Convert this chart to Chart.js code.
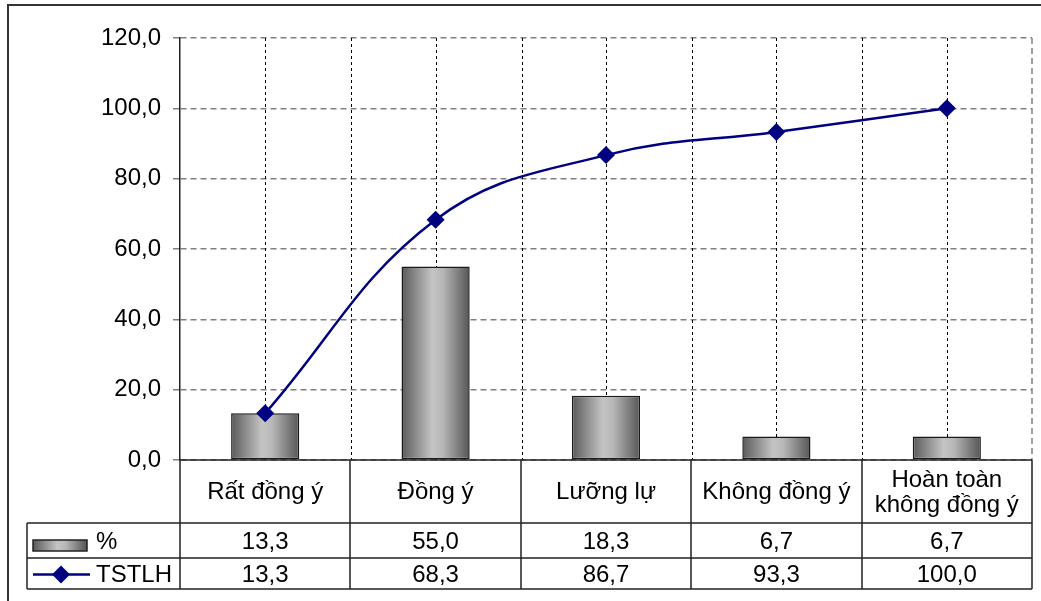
<!DOCTYPE html>
<html>
<head>
<meta charset="utf-8">
<script src="https://cdn.jsdelivr.net/npm/chart.js@4/dist/chart.umd.min.js"></script>
<style>
  html, body { margin: 0; padding: 0; background: #fff; }
  #chart { display: block; }
</style>
</head>
<body>
<canvas id="chart" width="1041" height="601"></canvas>
<script>
// Categories shown under the plot (multi-line where the table cell wraps)
const categories = [
    'Rất đồng ý',
    'Đồng ý',
    'Lưỡng lự',
    'Không đồng ý',
    ['Hoàn toàn', 'không đồng ý']
];
// Share of answers, percent
const percentValues = [13.3, 55.0, 18.3, 6.7, 6.7];
// Cumulative percent (TSTLH)
const cumulativeValues = [13.3, 68.3, 86.7, 93.3, 100.0];
const yTicks = [0, 20, 40, 60, 80, 100, 120];

const FONT = '"Liberation Sans", Arial, sans-serif';
const FONT_SIZE = 24;
const NAVY = '#000080';

// Format like 13,3
const fmt = v => v.toFixed(1).replace('.', ',');

function barGradient(ctx, x0, x1) {
    const g = ctx.createLinearGradient(x0, 0, x1, 0);
    g.addColorStop(0, '#5a5a5a');
    g.addColorStop(0.45, '#c4c4c4');
    g.addColorStop(0.6, '#b8b8b8');
    g.addColorStop(1, '#555555');
    return g;
}

function drawDiamond(ctx, x, y, r) {
    ctx.beginPath();
    ctx.moveTo(x, y - r);
    ctx.lineTo(x + r, y);
    ctx.lineTo(x, y + r);
    ctx.lineTo(x - r, y);
    ctx.closePath();
    ctx.fill();
}

// Vertical dashed guides, plot frame, outer frame and the data table
const tablePlugin = {
    id: 'dataTable',
    beforeDatasetsDraw(chart) {
        const { ctx, chartArea: a, scales: { x } } = chart;
        const step = x.width / categories.length;
        ctx.save();
        ctx.strokeStyle = '#000';
        ctx.lineWidth = 1;
        ctx.setLineDash([3, 3]);
        for (let i = 0; i < categories.length; i++) {
            const cx = Math.round(x.getPixelForValue(i)) + 0.5;
            [cx, Math.round(cx + step / 2) + 0.5].forEach(px => {
                if (px >= a.right - 2) return;
                ctx.beginPath();
                ctx.moveTo(px, a.top);
                ctx.lineTo(px, a.bottom);
                ctx.stroke();
            });
        }
        // right edge of the plot area
        ctx.strokeStyle = '#808080';
        ctx.lineWidth = 1.5;
        ctx.setLineDash([6, 4]);
        ctx.beginPath();
        ctx.moveTo(a.right, a.top);
        ctx.lineTo(a.right, a.bottom);
        ctx.stroke();
        ctx.restore();
    },
    afterDraw(chart) {
        const { ctx, chartArea: a, scales: { x } } = chart;
        const step = x.width / categories.length;
        const rowCat = [a.bottom, 523];
        const rowPct = [523, 558];
        const rowCum = [558, 589];
        const legendLeft = 27;

        ctx.save();
        // outer frame (top and left edges)
        ctx.strokeStyle = '#333';
        ctx.lineWidth = 2;
        ctx.beginPath();
        ctx.moveTo(1041, 5);
        ctx.lineTo(8, 5);
        ctx.lineTo(8, 601);
        ctx.stroke();

        // table grid
        ctx.strokeStyle = '#222';
        ctx.lineWidth = 1.5;
        ctx.beginPath();
        ctx.moveTo(a.left, a.bottom);
        ctx.lineTo(a.right, a.bottom);
        [rowPct[0], rowCum[0], rowCum[1]].forEach(y => {
            ctx.moveTo(legendLeft, y);
            ctx.lineTo(a.right, y);
        });
        ctx.moveTo(legendLeft, rowPct[0]);
        ctx.lineTo(legendLeft, rowCum[1]);
        for (let i = 0; i <= categories.length; i++) {
            const px = Math.round(a.left + i * step);
            ctx.moveTo(px, a.bottom);
            ctx.lineTo(px, rowCum[1]);
        }
        ctx.stroke();

        // cell text
        ctx.fillStyle = '#000';
        ctx.font = FONT_SIZE + 'px ' + FONT;
        ctx.textAlign = 'center';
        ctx.textBaseline = 'middle';
        categories.forEach((c, i) => {
            const cx = x.getPixelForValue(i);
            const lines = Array.isArray(c) ? c : [c];
            const mid = (rowCat[0] + rowCat[1]) / 2;
            const lh = 25;
            lines.forEach((t, k) => {
                ctx.fillText(t, cx, mid + (k - (lines.length - 1) / 2) * lh + 1);
            });
            ctx.fillText(fmt(percentValues[i]), cx, (rowPct[0] + rowPct[1]) / 2 + 2);
            ctx.fillText(fmt(cumulativeValues[i]), cx, (rowCum[0] + rowCum[1]) / 2 + 2);
        });

        // legend keys
        const swY = 540, swH = 11;
        ctx.fillStyle = barGradient(ctx, 33, 87);
        ctx.fillRect(33, swY, 54, swH);
        ctx.strokeStyle = '#222';
        ctx.lineWidth = 1.5;
        ctx.strokeRect(33, swY, 54, swH);

        const ly = (rowCum[0] + rowCum[1]) / 2 + 1;
        ctx.strokeStyle = NAVY;
        ctx.lineWidth = 2.5;
        ctx.beginPath();
        ctx.moveTo(33, ly);
        ctx.lineTo(90, ly);
        ctx.stroke();
        ctx.fillStyle = NAVY;
        drawDiamond(ctx, 61, ly, 9);

        ctx.fillStyle = '#000';
        ctx.textAlign = 'left';
        ctx.fillText('%', 96, (rowPct[0] + rowPct[1]) / 2 + 2);
        ctx.fillText('TSTLH', 96, ly + 1);
        ctx.restore();
    }
};

const chartCanvas = document.getElementById('chart');

new Chart(chartCanvas, {
    data: {
        labels: categories,
        datasets: [
            {
                type: 'line',
                label: 'TSTLH',
                data: cumulativeValues,
                borderColor: NAVY,
                backgroundColor: NAVY,
                borderWidth: 2.5,
                tension: 0.4,
                pointStyle: 'rectRot',
                pointRadius: 9,
                pointBorderWidth: 0,
                pointBackgroundColor: NAVY,
                order: 1
            },
            {
                type: 'bar',
                label: '%',
                data: percentValues,
                backgroundColor: (c) => {
                    const chart = c.chart;
                    const xs = chart.scales.x;
                    if (!chart.chartArea || !xs || c.dataIndex === undefined) return '#999';
                    const cx = xs.getPixelForValue(c.dataIndex);
                    const half = (xs.width / categories.length) * 0.4 / 2;
                    return barGradient(chart.ctx, cx - half, cx + half);
                },
                borderColor: '#1a1a1a',
                borderWidth: 1.5,
                borderSkipped: false,
                barPercentage: 0.4,
                categoryPercentage: 1,
                order: 2
            }
        ]
    },
    options: {
        responsive: false,
        animation: false,
        events: [],
        layout: { padding: { top: 38, right: 9, bottom: 141, left: 0 } },
        plugins: {
            legend: { display: false },
            tooltip: { enabled: false }
        },
        scales: {
            x: {
                type: 'category',
                display: false,
                offset: true
            },
            y: {
                min: 0,
                max: 120,
                afterFit: s => { s.width = 180; },
                afterBuildTicks: s => { s.ticks = yTicks.map(v => ({ value: v })); },
                ticks: {
                    color: '#000',
                    padding: 12,
                    font: { family: FONT, size: FONT_SIZE },
                    callback: v => fmt(v)
                },
                grid: {
                    color: '#808080',
                    lineWidth: 1.5,
                    tickLength: 7
                },
                border: {
                    display: true,
                    color: '#222',
                    width: 1.5,
                    dash: [6, 4]
                }
            }
        }
    },
    plugins: [tablePlugin]
});
</script>
</body>
</html>
